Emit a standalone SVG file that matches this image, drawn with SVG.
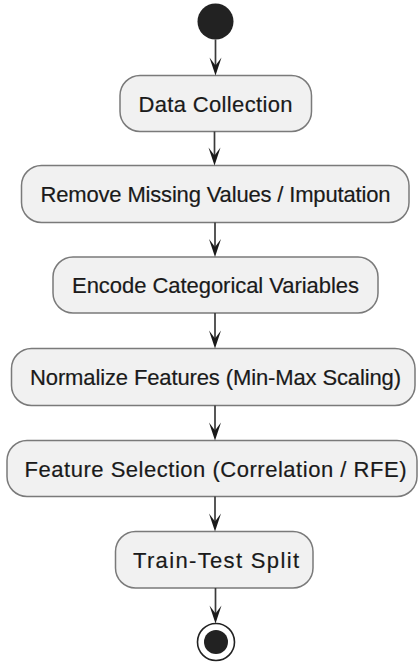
<svg xmlns="http://www.w3.org/2000/svg" width="420" height="663" viewBox="0 0 420 663">
<defs>
<style>
.box{fill:#f1f1f1;stroke:#7a7a7a;stroke-width:1.5}
.lbl{font-family:"Liberation Sans",Arial,sans-serif;font-size:22px;fill:#1a1a1a;text-anchor:middle;stroke:#1a1a1a;stroke-width:0.2}
.edge{stroke:#3a3a3a;stroke-width:1.7;fill:none}
.head{fill:#1a1a1a;stroke:none}
</style>
</defs>
<rect width="420" height="663" fill="#ffffff"/>
<g id="start"><circle cx="215.5" cy="21.5" r="18" fill="#222222"/></g>
<g id="n1"><rect class="box" x="120" y="75.5" width="191.5" height="56" rx="20"/><text class="lbl" x="215.5" y="111.5" textLength="154" lengthAdjust="spacing">Data Collection</text></g>
<g id="n2"><rect class="box" x="21.5" y="165.5" width="387.5" height="57" rx="20"/><text class="lbl" x="215.5" y="202" textLength="350" lengthAdjust="spacing">Remove Missing Values / Imputation</text></g>
<g id="n3"><rect class="box" x="53" y="257" width="325" height="56" rx="20"/><text class="lbl" x="215.5" y="293" textLength="287" lengthAdjust="spacing">Encode Categorical Variables</text></g>
<g id="n4"><rect class="box" x="11.5" y="348.5" width="403.5" height="57" rx="20"/><text class="lbl" x="215.5" y="385" textLength="371" lengthAdjust="spacing">Normalize Features (Min-Max Scaling)</text></g>
<g id="n5"><rect class="box" x="7" y="440.5" width="410" height="56" rx="20"/><text class="lbl" x="215.5" y="476.5" textLength="382" lengthAdjust="spacing">Feature Selection (Correlation / RFE)</text></g>
<g id="n6"><rect class="box" x="115.5" y="531.5" width="197.5" height="56.5" rx="20"/><text class="lbl" x="216" y="568" textLength="166" lengthAdjust="spacing">Train-Test Split</text></g>
<g id="end"><circle cx="216" cy="642" r="18.5" fill="#ffffff" stroke="#222222" stroke-width="1.6"/><circle cx="216" cy="642" r="12" fill="#222222"/></g>
<g id="connectors">
<path class="edge" d="M215.5 39.5V67"/><path class="head" d="M215.5 75.5L209.5 57.5L215.5 65.5L221.5 57.5Z"/>
<path class="edge" d="M214.5 131.5V157"/><path class="head" d="M214.5 165.5L208.5 147.5L214.5 155.5L220.5 147.5Z"/>
<path class="edge" d="M215 222.5V249"/><path class="head" d="M215 257L209 239L215 247L221 239Z"/>
<path class="edge" d="M215 313V340"/><path class="head" d="M215 348.5L209 330.5L215 338.5L221 330.5Z"/>
<path class="edge" d="M215 405.5V432"/><path class="head" d="M215 440.5L209 422.5L215 430.5L221 422.5Z"/>
<path class="edge" d="M215 496.5V523"/><path class="head" d="M215 531.5L209 513.5L215 521.5L221 513.5Z"/>
<path class="edge" d="M215.5 588V615"/><path class="head" d="M215.5 623.5L209.5 605.5L215.5 613.5L221.5 605.5Z"/>
</g>
</svg>
